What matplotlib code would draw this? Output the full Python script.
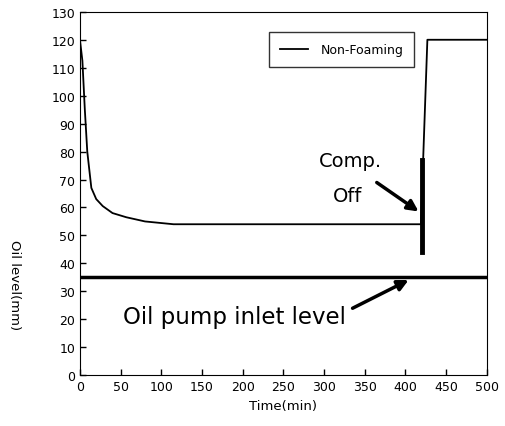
import matplotlib
matplotlib.use('Agg')
import matplotlib.pyplot as plt

# data
time_min = [0, 3, 6, 9, 14, 20, 28, 40, 57, 80, 115, 200, 300, 419, 427, 500]
oil_level = [120, 112.5, 95, 80, 67, 63, 60.5, 58, 56.5, 55, 54, 54, 54, 54, 120, 120]
pump_inlet_level = 35
comp_off_time = 420
comp_off_marker = [44, 77]

x_ticks = list(range(0, 501, 50))
y_ticks = list(range(0, 131, 10))

plt.rcParams['font.family'] = ['DejaVu Sans']

fig = plt.figure(figsize=(5.06, 4.27), dpi=100)
ax = fig.add_axes([0.158, 0.119, 0.804, 0.851])

ax.plot(time_min, oil_level, color='black', lw=1.3, label='Non-Foaming')
ax.axhline(pump_inlet_level, color='black', lw=2.5)
ax.plot([comp_off_time, comp_off_time], comp_off_marker, color='black', lw=3.5)

ax.set_xlim(0, 500)
ax.set_ylim(0, 130)
ax.set_xticks(x_ticks)
ax.set_yticks(y_ticks)
ax.tick_params(direction='in', length=4, labelsize=9, width=1)

ax.set_xlabel('Time(min)', fontsize=9.5)
ax.set_ylabel('Oil level(mm)', fontsize=9.5, rotation=270, va='center')
ax.yaxis.set_label_coords(-0.16, 0.25)

ax.text(332, 76.7, 'Comp.', fontsize=14, ha='center', va='center')
ax.text(329, 64.2, 'Off', fontsize=14, ha='center', va='center')
ax.annotate('', xy=(419, 58), xytext=(362, 69.5),
            arrowprops=dict(arrowstyle='-|>', color='black', lw=2.5, mutation_scale=16))

ax.text(53, 21, 'Oil pump inlet level', fontsize=16.5, ha='left', va='center')
ax.annotate('', xy=(407, 34.5), xytext=(332, 23.5),
            arrowprops=dict(arrowstyle='-|>', color='black', lw=2.5, mutation_scale=16))

leg = ax.legend(loc='upper left', bbox_to_anchor=(0.465, 0.945), fontsize=9,
                frameon=True, fancybox=False, edgecolor='black', handlelength=2.2,
                handletextpad=1.0, borderpad=0.9, borderaxespad=0)
leg.get_frame().set_linewidth(1)

fig.savefig('out.png', dpi=100)
